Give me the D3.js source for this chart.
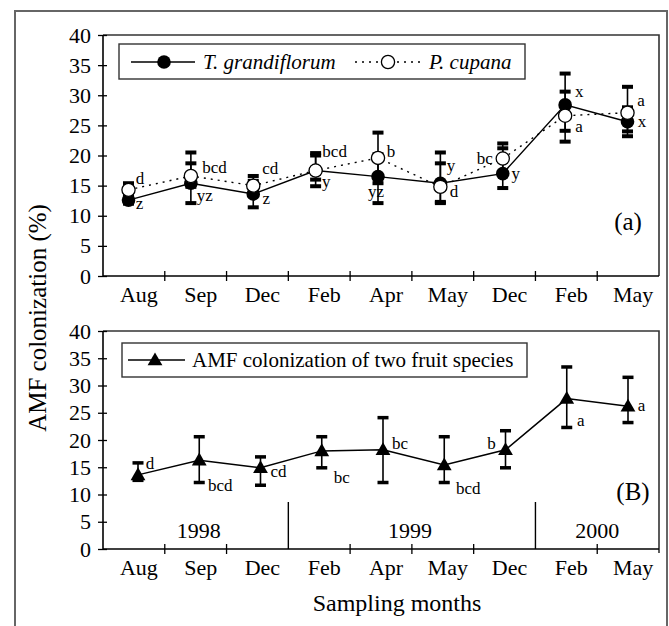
<!DOCTYPE html>
<html><head><meta charset="utf-8">
<script src="https://cdn.jsdelivr.net/npm/d3@7"></script>
<style>body{margin:0;background:#fff}svg{display:block;font-family:"Liberation Serif","Times New Roman",serif}</style>
</head><body><svg id="c" width="669" height="626"></svg>
<script>
// ---- data ----
const months = ["Aug","Sep","Dec","Feb","Apr","May","Dec","Feb","May"];
const yTicks = [0,5,10,15,20,25,30,35,40];
const tgMean = [12.6,15.4,13.6,17.5,16.5,15.4,17.0,28.4,25.6];
const tgHi   = [13.3,18.7,15.8,20.0,20.2,18.7,21.2,33.6,28.0];
const tgLo   = [12.0,12.1,11.4,14.9,12.1,12.1,14.6,24.1,23.2];
const tgLetters = ["z","yz","z","y","yz","y","y","x","x"];
const pcMean = [14.3,16.6,15.0,17.5,19.6,14.8,19.5,26.6,27.1];
const pcHi   = [15.4,20.5,16.6,20.4,23.8,20.5,22.0,30.6,31.4];
const pcLo   = [13.2,14.8,13.4,16.0,15.4,12.3,17.0,22.3,24.0];
const pcLetters = ["d","bcd","cd","bcd","b","d","bc","a","a"];
const amfMean = [13.6,16.3,14.9,18.0,18.2,15.4,18.2,27.6,26.2];
const amfHi   = [15.8,20.6,16.9,20.6,24.1,20.6,21.7,33.4,31.5];
const amfLo   = [12.6,12.2,11.7,14.9,12.2,12.2,14.9,22.3,23.2];
const amfLetters = ["d","bcd","cd","bc","bc","bcd","b","a","a"];
const years = ["1998","1999","2000"];
const yearStart = [0,3,7];
const yearEnd = [3,7,9];

// ---- label layout offsets (px, relative to marker) ----
const tgOff = [[11,3],[14,12],[13,4],[10.5,11],[-2,15],[10.5,-18],[13,0],[14,-13],[14.5,0]];
const pcOff = [[11.5,-11],[23.6,-8],[17,-17.6],[19,-19],[13,-6],[13.6,5],[-18,0],[14,11],[13.5,-12]];
const amfOff = [[12,-11],[21,25],[18,4],[20,27],[17,-6],[24,23],[-14,-6],[14,22],[13.5,-1]];

const svg = d3.select("#c");
const idx = d3.range(months.length);
const band = d3.scaleBand().domain(idx).range([103,659]);
const xTop = d3.scaleLinear().domain([0,8]).range([128.5,627.5]);
const xBot = d3.scaleLinear().domain([0,8]).range([138,628]);
const yTop = d3.scaleLinear().domain([0,40]).range([276,35]);
const yBot = d3.scaleLinear().domain([0,40]).range([549,331]);

// outer frame
svg.append("rect").attr("x",15).attr("y",11).attr("width",652).attr("height",640)
  .attr("fill","none").attr("stroke","#666").attr("stroke-width",2);

function panel(y, x0, x1, showTicks){
  const g = svg.append("g");
  g.append("path").attr("d",`M${x0},${y(40)}H${x1}V${y(0)+ (showTicks?0:4)}`)
    .attr("fill","none").attr("stroke","#333").attr("stroke-width",1.6);
  const ya = g.append("g").attr("transform",`translate(${x0},0)`)
    .call(d3.axisLeft(y).tickValues(yTicks).tickSize(5).tickPadding(7));
  ya.select(".domain").attr("stroke","#000").attr("stroke-width",1.6).attr("d",`M0,${y(40)}V${y(0)}`);
  ya.selectAll(".tick line").attr("x1",4).attr("x2",-5).attr("stroke-width",1.3);
  ya.selectAll("text").attr("font-size",22).attr("font-family","Liberation Serif").attr("fill","#000");
  return g;
}
function xAxis(g, y, tickIdx, labelY){
  g.append("line").attr("x1",103).attr("x2",659).attr("y1",y(0)).attr("y2",y(0))
    .attr("stroke","#000").attr("stroke-width",1.6);
  g.selectAll(".xt").data(tickIdx).enter().append("line")
    .attr("x1",d=>band(d)).attr("x2",d=>band(d)).attr("y1",y(0)-5).attr("y2",y(0)+5)
    .attr("stroke","#000").attr("stroke-width",1.3);
  g.selectAll(".xl").data(idx).enter().append("text")
    .attr("x",d=>band(d)+band.bandwidth()/2+5).attr("y",labelY)
    .attr("text-anchor","middle").attr("font-size",22).text(d=>months[d]);
}

// ---------- panel (a) ----------
const gA = panel(yTop,103,659,true);
xAxis(gA, yTop, [1,2,3,4,5,6,7,8], 302);

const line = (x,y) => d3.line().x(d=>x(d[0])).y(d=>y(d[1]));
gA.append("path").datum(idx.map(i=>[i,tgMean[i]])).attr("d",line(xTop,yTop))
  .attr("fill","none").attr("stroke","#000").attr("stroke-width",1.4);
gA.append("path").datum(idx.map(i=>[i,pcMean[i]])).attr("d",line(xTop,yTop))
  .attr("fill","none").attr("stroke","#000").attr("stroke-width",1.4).attr("stroke-dasharray","2,5");

function errBars(g, x, y, hi, lo, capW, capH){
  idx.forEach(i=>{
    g.append("line").attr("x1",x(i)).attr("x2",x(i)).attr("y1",y(hi[i])).attr("y2",y(lo[i]))
      .attr("stroke","#000").attr("stroke-width",1.6);
    [hi[i],lo[i]].forEach(v=>g.append("rect").attr("x",x(i)-capW/2).attr("y",y(v)-capH/2)
      .attr("width",capW).attr("height",capH).attr("fill","#000"));
  });
}
errBars(gA,xTop,yTop,tgHi,tgLo,11,4);
errBars(gA,xTop,yTop,pcHi,pcLo,11,4);

gA.selectAll(".tg").data(idx).enter().append("circle")
  .attr("cx",d=>xTop(d)).attr("cy",d=>yTop(tgMean[d])).attr("r",6.8).attr("fill","#000");
gA.selectAll(".pc").data(idx).enter().append("circle")
  .attr("cx",d=>xTop(d)).attr("cy",d=>yTop(pcMean[d])).attr("r",6.6)
  .attr("fill","#fff").attr("stroke","#000").attr("stroke-width",1.3);

function letters(g, x, y, vals, labs, off){
  g.selectAll(null).data(idx).enter().append("text")
    .attr("x",d=>x(d)+off[d][0]).attr("y",d=>y(vals[d])+off[d][1])
    .attr("text-anchor","middle").attr("dominant-baseline","central")
    .attr("font-size",17).text(d=>labs[d]);
}
letters(gA,xTop,yTop,tgMean,tgLetters,tgOff);
letters(gA,xTop,yTop,pcMean,pcLetters,pcOff);

gA.append("text").attr("x",628).attr("y",230).attr("text-anchor","middle")
  .attr("font-size",25).text("(a)");

// legend (a)
const lg = gA.append("g");
lg.append("rect").attr("x",119).attr("y",44).attr("width",406).attr("height",35)
  .attr("fill","#fff").attr("stroke","#333").attr("stroke-width",1.4);
lg.append("line").attr("x1",131).attr("x2",195).attr("y1",62).attr("y2",62).attr("stroke","#000").attr("stroke-width",1.4);
lg.append("circle").attr("cx",164).attr("cy",62).attr("r",6.8).attr("fill","#000");
lg.append("text").attr("x",203).attr("y",69).attr("font-size",21).attr("font-style","italic").text("T. grandiflorum");
lg.append("line").attr("x1",355).attr("x2",423).attr("y1",62).attr("y2",62).attr("stroke","#000")
  .attr("stroke-width",1.4).attr("stroke-dasharray","2,5");
lg.append("circle").attr("cx",388).attr("cy",62).attr("r",6.6).attr("fill","#fff").attr("stroke","#000").attr("stroke-width",1.3);
lg.append("text").attr("x",429).attr("y",69).attr("font-size",21).attr("font-style","italic").text("P. cupana");

// ---------- panel (B) ----------
const gB = panel(yBot,103,659,false);
xAxis(gB, yBot, [1,2,4,5,6,8], 575);
gB.selectAll(".sep").data([3,7]).enter().append("line")
  .attr("x1",d=>band(d)).attr("x2",d=>band(d)).attr("y1",502).attr("y2",yBot(0))
  .attr("stroke","#000").attr("stroke-width",1.4);
gB.selectAll(".yr").data(years).enter().append("text")
  .attr("x",(d,i)=>{const a=band(yearStart[i]);const b=yearEnd[i]<9?band(yearEnd[i]):659;return (a+b)/2+(i===0?3:(i===1?-2:0));})
  .attr("y",538).attr("text-anchor","middle").attr("font-size",22).text(d=>d);

gB.append("path").datum(idx.map(i=>[i,amfMean[i]])).attr("d",line(xBot,yBot))
  .attr("fill","none").attr("stroke","#000").attr("stroke-width",1.5);
errBars(gB,xBot,yBot,amfHi,amfLo,11,3.5);
const tri = d3.symbol().type(d3.symbolTriangle).size(95);
gB.selectAll(".amf").data(idx).enter().append("path")
  .attr("d",tri).attr("transform",d=>`translate(${xBot(d)},${yBot(amfMean[d])+1})`).attr("fill","#000");
letters(gB,xBot,yBot,amfMean,amfLetters,amfOff);

gB.append("text").attr("x",633).attr("y",500).attr("text-anchor","middle")
  .attr("font-size",25).text("(B)");

const lb = gB.append("g");
lb.append("rect").attr("x",122).attr("y",343).attr("width",405).attr("height",34)
  .attr("fill","#fff").attr("stroke","#333").attr("stroke-width",1.4);
lb.append("line").attr("x1",128).attr("x2",185).attr("y1",360).attr("y2",360).attr("stroke","#000").attr("stroke-width",1.4);
lb.append("path").attr("d",tri).attr("transform","translate(155,361)").attr("fill","#000");
lb.append("text").attr("x",192).attr("y",367).attr("font-size",21).text("AMF colonization of two fruit species");

// axis titles
svg.append("text").attr("transform","translate(46,318) rotate(-90)").attr("text-anchor","middle")
  .attr("font-size",25).text("AMF colonization (%)");
svg.append("text").attr("x",397).attr("y",611).attr("text-anchor","middle")
  .attr("font-size",24).text("Sampling months");
</script></body></html>
